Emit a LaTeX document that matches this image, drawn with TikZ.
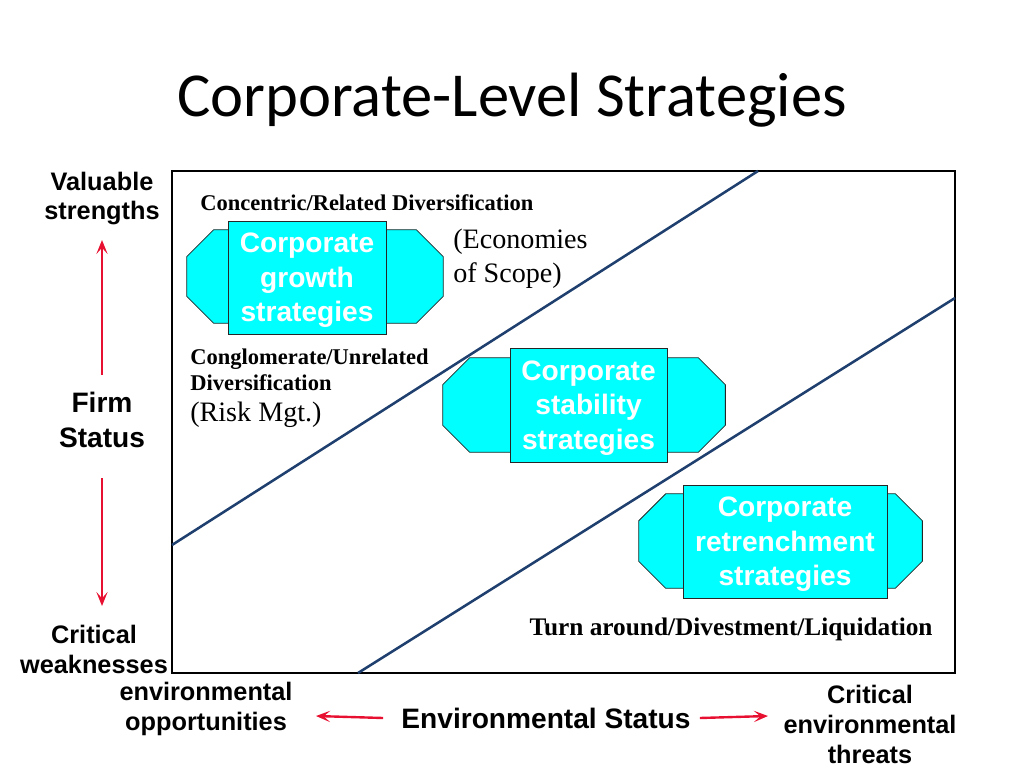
\documentclass[tikz,border=0pt]{standalone}
\usepackage{fontspec}
\setmainfont{Liberation Serif}
\setsansfont{Liberation Sans}
\newfontfamily\titlefont{Carlito}
\usetikzlibrary{arrows.meta, positioning}
\definecolor{lineblue}{RGB}{31,63,110}
\definecolor{arrowred}{RGB}{232,16,48}
\definecolor{boxcyan}{RGB}{0,255,255}
\tikzstyle{wing} = [rectangle, inner sep=0]
\tikzstyle{wingline} = [draw=black!85, fill=boxcyan, line width=0.6pt]
\tikzstyle{core} = [rectangle, draw=black!85, fill=boxcyan, line width=0.6pt, text=white, align=center, text depth=0pt, font=\sffamily\bfseries\fontsize{20}{24.5}\selectfont]
\tikzstyle{axislab} = [align=center, inner sep=0, font=\sffamily\bfseries\fontsize{18}{21.3}\selectfont]
\tikzstyle{axisbig} = [align=center, inner sep=0, font=\sffamily\bfseries\fontsize{20}{24.5}\selectfont]
\tikzstyle{note} = [align=left, inner sep=0, font=\bfseries\fontsize{16}{18.5}\selectfont]
\tikzstyle{notebig} = [align=left, inner sep=0, font=\fontsize{20}{24.5}\selectfont]
\tikzstyle{redarrow} = [arrowred, line width=1.7pt, -{Stealth[length=10pt,width=8pt,inset=4.5pt]}]
\tikzstyle{diag} = [lineblue, line width=1.8pt]

\begin{document}
\begin{tikzpicture}[x=0.025cm, y=-0.025cm]
\useasboundingbox (0,0) rectangle (1024,768);

\node (title) [anchor=base, font=\titlefont\fontsize{44.5}{50}\selectfont] at (512,117) {Corporate-Level Strategies};

% frame and dividing lines
\draw [line width=1.8pt] (172,171) rectangle (955,673);
\draw [diag] (172,545) -- (758,171);
\draw [diag] (358,673) -- (955,298);

% strategy boxes
\node (growwing) [wing, minimum width=6.4cm, minimum height=2.325cm] at (315,276.5) {};
\node (stabwing) [wing, minimum width=7.05cm, minimum height=2.35cm] at (584,405) {};
\node (retrwing) [wing, minimum width=7.075cm, minimum height=2.35cm] at (780.5,541) {};
\foreach \w in {growwing, stabwing, retrwing}
  \draw [wingline] ([xshift=19.2pt]\w.north west) -- ([xshift=-19.2pt]\w.north east)
    -- ([yshift=-19.2pt]\w.north east) -- ([yshift=19.2pt]\w.south east)
    -- ([xshift=-19.2pt]\w.south east) -- ([xshift=19.2pt]\w.south west)
    -- ([yshift=19.2pt]\w.south west) -- ([yshift=-19.2pt]\w.north west) -- cycle;
\node (grow) [core, minimum width=3.95cm, minimum height=2.825cm] at (307,277.5) {Corporate\\growth\\strategies};
\node (stab) [core, minimum width=3.925cm, minimum height=2.85cm] at (588.5,405) {Corporate\\stability\\strategies};
\node (retr) [core, minimum width=5.1cm, minimum height=2.825cm] at (785,541.5) {Corporate\\retrenchment\\strategies};

% notes
\node (concen) [note, anchor=west] at (200,203) {Concentric/Related Diversification};
\node (scope) [notebig, anchor=west] at (453,259) {(Economies\\of Scope)};
\node (congl) [note, anchor=west] at (190,370) {Conglomerate/Unrelated\\Diversification};
\node (risk) [notebig, anchor=west] at (190,415) {(Risk Mgt.)};
\node (turn) [note, font=\bfseries\fontsize{18}{21}\selectfont] at (731,629) {Turn around/Divestment/Liquidation};

% axes
\node (valuable) [axislab] at (102,198.5) {Valuable\\strengths};
\node (firm) [axisbig] at (102,420) {Firm\\Status};
\node (critweak) [axislab] at (94,649) {Critical\\weaknesses};
\node (envopp) [axislab] at (206,709) {environmental\\opportunities};
\node (envst) [axisbig] at (546,718) {Environmental Status};
\node (critthr) [axislab] at (870,724) {Critical\\environmental\\threats};

\coordinate (firmtop) at (102,240);
\coordinate (firmbot) at (102,606);
\coordinate (envleft) at (316,716);
\coordinate (envright) at (768,716);

\draw [redarrow] ([yshift=12.4pt]firm.north) -- (firmtop);
\draw [redarrow] ([yshift=-21.7pt]firm.south) -- (firmbot);
\draw [redarrow] ([xshift=-12.8pt]envst.west) -- (envleft);
\draw [redarrow] ([xshift=6.4pt]envst.east) -- (envright);

\end{tikzpicture}
\end{document}
